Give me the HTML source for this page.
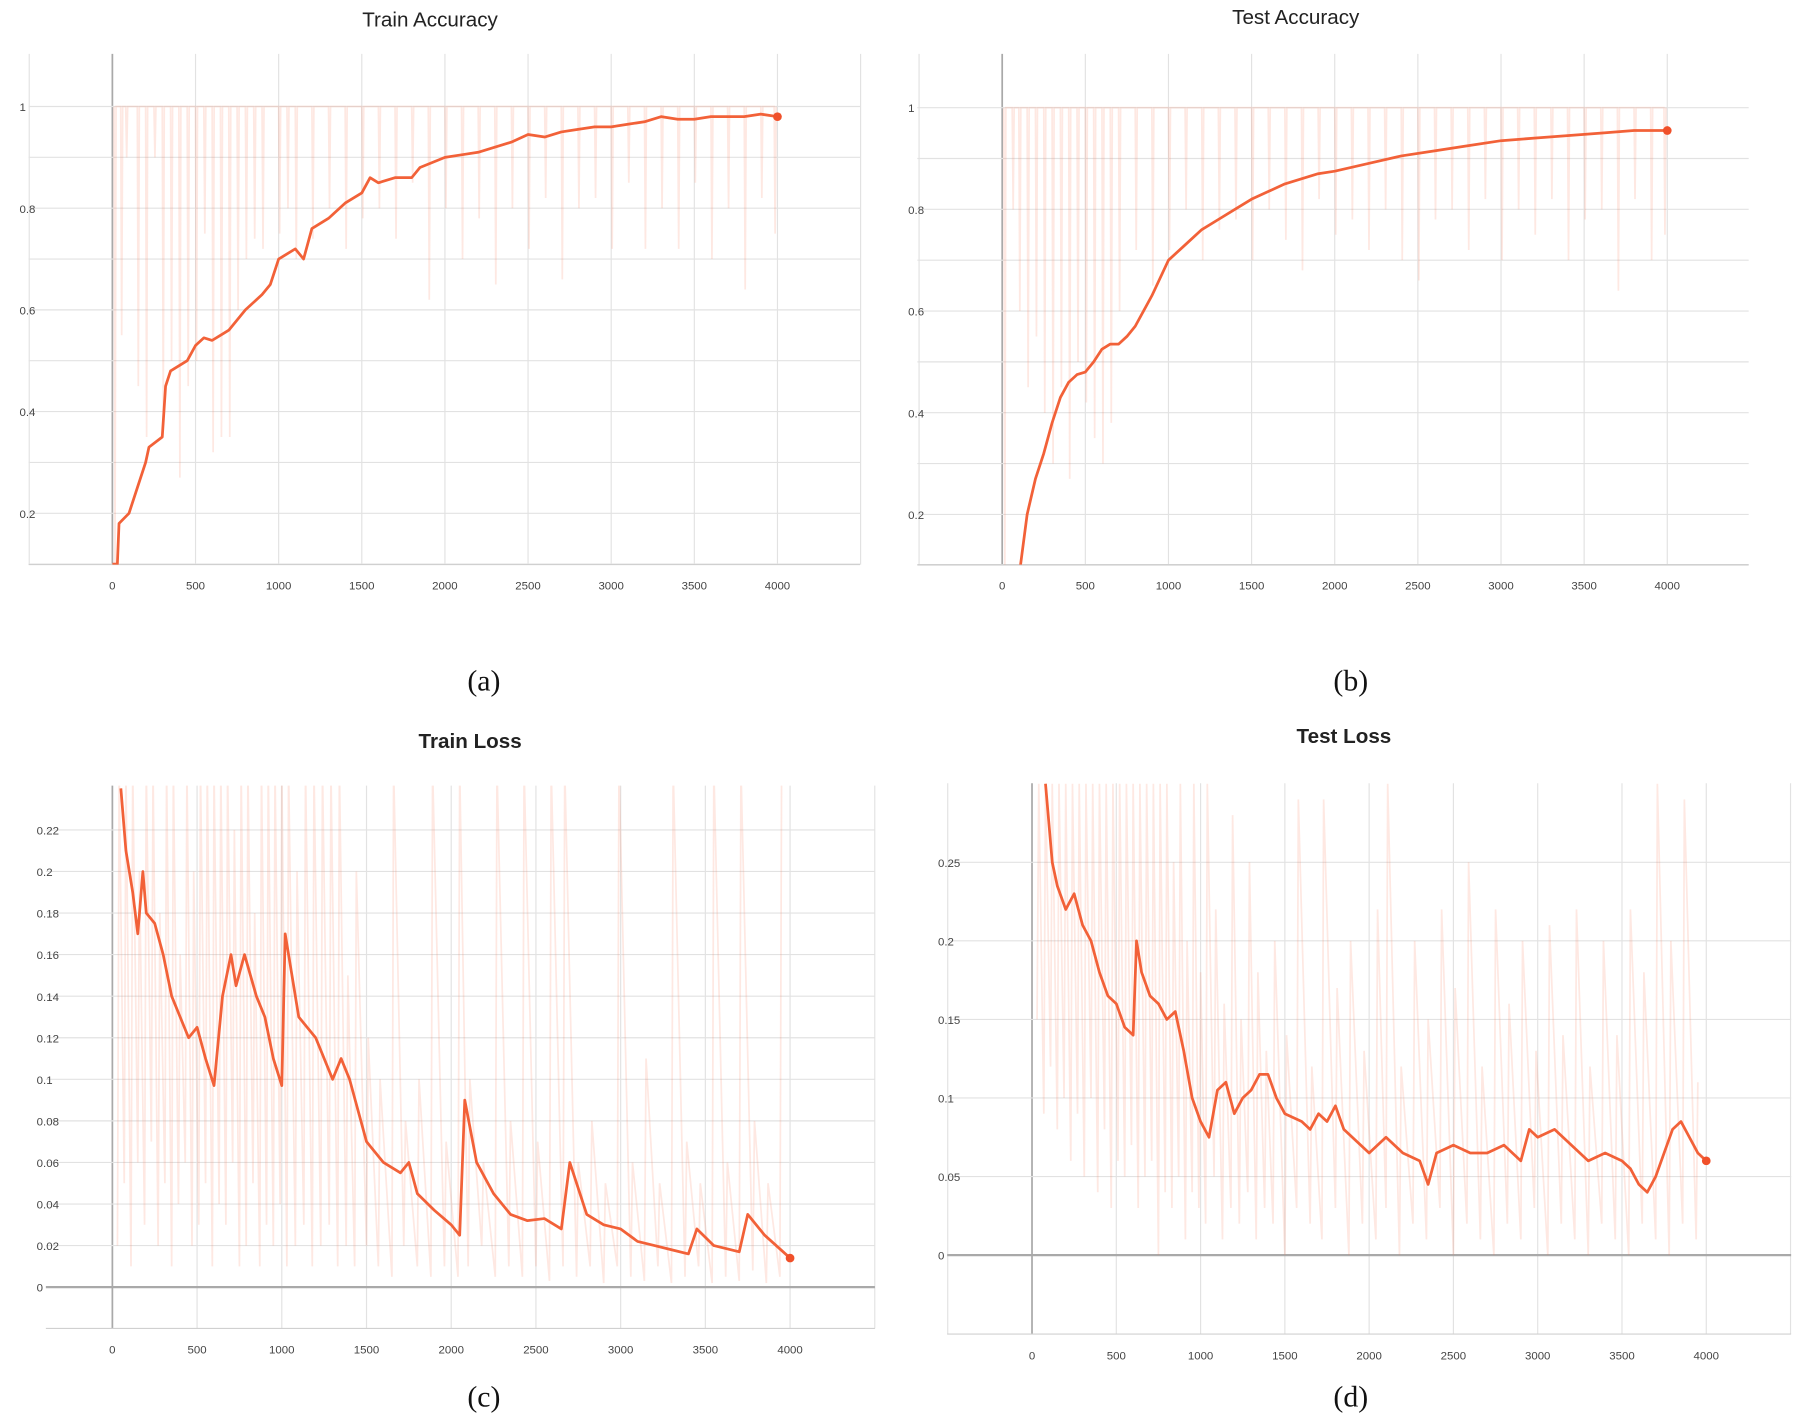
<!DOCTYPE html>
<html><head><meta charset="utf-8">
<style>
html,body{margin:0;padding:0;background:#fff;}
svg{display:block;}
.tick{font-family:"Liberation Sans",sans-serif;font-size:10px;fill:#444;}
.title{font-family:"Liberation Sans",sans-serif;font-size:18px;fill:#222;}
.cap{font-family:"Liberation Serif",serif;font-size:26px;fill:#111;}
</style></head>
<body>
<svg id="fig" width="1798" height="1420" viewBox="0 0 1568 1240" preserveAspectRatio="none" xmlns="http://www.w3.org/2000/svg"></svg>
<script>
// ---- shared tick labels ----
const xTickVals=[0,500,1000,1500,2000,2500,3000,3500,4000];
const accTickVals=[0.2,0.4,0.6,0.8,1];
const accTickLabels=["0.2","0.4","0.6","0.8","1"];
const trainLossTickVals=[0,0.02,0.04,0.06,0.08,0.1,0.12,0.14,0.16,0.18,0.2,0.22];
const trainLossTickLabels=["0","0.02","0.04","0.06","0.08","0.1","0.12","0.14","0.16","0.18","0.2","0.22"];
const testLossTickVals=[0,0.05,0.1,0.15,0.2,0.25];
const testLossTickLabels=["0","0.05","0.1","0.15","0.2","0.25"];

// ---- (a) train accuracy ----
const trainAccX=[0,30,40,100,150,200,220,300,320,350,400,450,500,550,600,650,700,800,900,950,1000,1100,1150,1200,1300,1400,1500,1550,1600,1700,1800,1850,2000,2100,2200,2300,2400,2500,2600,2700,2800,2900,3000,3100,3200,3300,3400,3500,3600,3700,3800,3900,4000];
const trainAccY=[0.1,0.1,0.18,0.2,0.25,0.3,0.33,0.35,0.45,0.48,0.49,0.5,0.53,0.545,0.54,0.55,0.56,0.6,0.63,0.65,0.7,0.72,0.7,0.76,0.78,0.81,0.83,0.86,0.85,0.86,0.86,0.88,0.9,0.905,0.91,0.92,0.93,0.945,0.94,0.95,0.955,0.96,0.96,0.965,0.97,0.98,0.975,0.975,0.98,0.98,0.98,0.985,0.98];
const trainAccRawX=[10,50,80,150,200,250,300,350,400,450,500,550,600,650,700,750,800,850,900,1000,1050,1100,1200,1300,1400,1500,1600,1700,1800,1900,2000,2100,2200,2300,2400,2500,2600,2700,2800,2900,3000,3100,3200,3300,3400,3500,3600,3700,3800,3900,3980];
const trainAccRawY=[0.1,0.55,0.9,0.45,0.35,0.9,0.4,0.5,0.27,0.45,0.5,0.75,0.32,0.35,0.35,0.6,0.7,0.74,0.72,0.75,0.8,0.7,0.74,0.8,0.72,0.78,0.8,0.74,0.85,0.62,0.8,0.7,0.78,0.65,0.8,0.72,0.82,0.66,0.8,0.82,0.72,0.85,0.72,0.8,0.72,0.85,0.7,0.8,0.64,0.82,0.75];

// ---- (b) test accuracy ----
const testAccX=[110,150,200,250,300,350,400,450,500,550,600,650,700,750,800,900,1000,1100,1200,1300,1400,1500,1600,1700,1800,1900,2000,2200,2400,2600,2800,3000,3200,3400,3600,3800,4000];
const testAccY=[0.1,0.2,0.27,0.32,0.38,0.43,0.46,0.475,0.48,0.5,0.525,0.535,0.535,0.55,0.57,0.63,0.7,0.73,0.76,0.78,0.8,0.82,0.835,0.85,0.86,0.87,0.875,0.89,0.905,0.915,0.925,0.935,0.94,0.945,0.95,0.955,0.955];
const testAccRawX=[10,60,100,150,200,250,300,350,400,450,500,550,600,650,700,800,900,1000,1100,1200,1300,1400,1500,1600,1700,1800,1900,2000,2100,2200,2300,2400,2500,2600,2700,2800,2900,3000,3100,3200,3300,3400,3500,3600,3700,3800,3900,3980];
const testAccRawY=[0.1,0.8,0.6,0.45,0.55,0.4,0.3,0.45,0.27,0.5,0.42,0.35,0.3,0.38,0.6,0.72,0.65,0.72,0.8,0.7,0.76,0.78,0.7,0.8,0.74,0.68,0.82,0.75,0.78,0.72,0.8,0.7,0.66,0.78,0.8,0.72,0.82,0.7,0.8,0.75,0.82,0.7,0.78,0.8,0.64,0.82,0.7,0.75];

// ---- (c) train loss ----
const trainLossX=[50,80,120,150,180,200,250,300,350,400,450,500,550,600,650,700,730,780,850,900,950,1000,1020,1100,1150,1200,1300,1350,1400,1450,1500,1600,1700,1750,1800,1900,2000,2050,2080,2150,2250,2350,2450,2550,2650,2700,2800,2900,3000,3100,3200,3300,3400,3450,3550,3700,3750,3850,4000];
const trainLossY=[0.24,0.21,0.19,0.17,0.2,0.18,0.175,0.16,0.14,0.13,0.12,0.125,0.11,0.097,0.14,0.16,0.145,0.16,0.14,0.13,0.11,0.097,0.17,0.13,0.125,0.12,0.1,0.11,0.1,0.085,0.07,0.06,0.055,0.06,0.045,0.037,0.03,0.025,0.09,0.06,0.045,0.035,0.032,0.033,0.028,0.06,0.035,0.03,0.028,0.022,0.02,0.018,0.016,0.028,0.02,0.017,0.035,0.025,0.014];
const trainLossRawX=[30,70,110,150,190,230,270,310,350,390,430,470,510,550,590,630,670,710,750,790,830,870,910,950,990,1030,1080,1130,1180,1230,1280,1330,1380,1430,1500,1570,1650,1720,1800,1880,1960,2040,2100,2180,2260,2340,2420,2500,2580,2660,2740,2820,2900,2980,3060,3140,3220,3300,3380,3460,3540,3620,3700,3780,3860,3940];
const trainLossRawHigh=[0.25,0.25,0.25,0.2,0.25,0.25,0.18,0.25,0.25,0.16,0.25,0.2,0.25,0.25,0.25,0.25,0.25,0.22,0.25,0.25,0.18,0.25,0.25,0.25,0.25,0.25,0.2,0.25,0.25,0.25,0.25,0.25,0.15,0.2,0.12,0.1,0.25,0.08,0.1,0.25,0.07,0.25,0.1,0.06,0.25,0.08,0.25,0.07,0.25,0.25,0.06,0.08,0.05,0.25,0.06,0.11,0.05,0.25,0.07,0.05,0.25,0.06,0.25,0.08,0.05,0.25];
const trainLossRawLow=[0.02,0.05,0.01,0.06,0.03,0.07,0.02,0.05,0.01,0.04,0.06,0.02,0.03,0.05,0.01,0.04,0.03,0.06,0.01,0.02,0.05,0.01,0.03,0.02,0.04,0.01,0.02,0.03,0.01,0.02,0.03,0.01,0.02,0.01,0.02,0.01,0.005,0.02,0.01,0.005,0.01,0.005,0.01,0.02,0.005,0.01,0.005,0.01,0.003,0.01,0.005,0.01,0.002,0.01,0.005,0.003,0.01,0.002,0.005,0.01,0.002,0.005,0.003,0.008,0.002,0.005];

// ---- (d) test loss ----
const testLossX=[80,120,150,200,250,300,350,400,450,500,550,600,620,650,700,750,800,850,900,950,1000,1050,1100,1150,1200,1250,1300,1350,1400,1450,1500,1600,1650,1700,1750,1800,1850,1900,2000,2050,2100,2200,2300,2350,2400,2500,2600,2700,2800,2900,2950,3000,3100,3200,3300,3400,3500,3550,3600,3650,3700,3750,3800,3850,3900,3950,4000];
const testLossY=[0.3,0.25,0.235,0.22,0.23,0.21,0.2,0.18,0.165,0.16,0.145,0.14,0.2,0.18,0.165,0.16,0.15,0.155,0.13,0.1,0.085,0.075,0.105,0.11,0.09,0.1,0.105,0.115,0.115,0.1,0.09,0.085,0.08,0.09,0.085,0.095,0.08,0.075,0.065,0.07,0.075,0.065,0.06,0.045,0.065,0.07,0.065,0.065,0.07,0.06,0.08,0.075,0.08,0.07,0.06,0.065,0.06,0.055,0.045,0.04,0.05,0.065,0.08,0.085,0.075,0.065,0.06];
const testLossRawX=[30,70,110,150,190,230,270,310,350,390,430,470,510,550,590,630,670,710,750,790,830,870,910,950,990,1030,1080,1130,1180,1230,1280,1330,1380,1430,1500,1570,1650,1720,1800,1880,1960,2040,2100,2180,2260,2340,2420,2500,2580,2660,2740,2820,2900,2980,3060,3140,3220,3300,3380,3460,3540,3620,3700,3780,3860,3940];
const testLossRawHigh=[0.3,0.3,0.3,0.3,0.3,0.3,0.3,0.3,0.3,0.3,0.3,0.3,0.3,0.3,0.3,0.3,0.3,0.3,0.3,0.3,0.25,0.3,0.2,0.3,0.18,0.3,0.22,0.16,0.28,0.15,0.25,0.18,0.13,0.2,0.14,0.29,0.12,0.29,0.17,0.2,0.13,0.22,0.3,0.12,0.2,0.15,0.22,0.17,0.25,0.12,0.22,0.16,0.2,0.13,0.21,0.14,0.22,0.12,0.2,0.14,0.22,0.18,0.3,0.2,0.29,0.11];
const testLossRawLow=[0.15,0.09,0.12,0.08,0.1,0.06,0.09,0.05,0.1,0.04,0.08,0.03,0.06,0.05,0.07,0.03,0.05,0.06,0.0,0.04,0.03,0.05,0.01,0.04,0.03,0.02,0.05,0.01,0.03,0.02,0.04,0.01,0.03,0.02,0.0,0.03,0.02,0.01,0.03,0.0,0.02,0.01,0.03,0.0,0.02,0.01,0.03,0.0,0.02,0.01,0.0,0.02,0.01,0.03,0.0,0.02,0.01,0.0,0.02,0.01,0.0,0.02,0.01,0.0,0.02,0.01];

const NS="http://www.w3.org/2000/svg";
const fig=document.getElementById('fig');
function mk(tag,attrs,parent){const e=document.createElementNS(NS,tag);for(const k in attrs)e.setAttribute(k,attrs[k]);(parent||fig).appendChild(e);return e;}

function drawPanel(p){
  const g=mk('g',{});
  
  
  const sx=v=>p.x0+(v/1000)*p.kx;
  const sy=v=>p.yRef-(v-p.vRef)*p.ky;
  const clipId='clip-'+p.name;
  const cp=mk('clipPath',{id:clipId},g);
  mk('rect',{x:p.left,y:p.top,width:p.right-p.left,height:p.bottom-p.top},cp);
  const grid=mk('g',{},g);
  
  
  for(let v=-500;v<=4500;v+=500){const X=sx(v);if(X<p.left-1||X>p.right+1)continue;
    mk('line',{x1:X,y1:p.top,x2:X,y2:p.bottom,stroke:v===0?'#a9a9a9':'#e2e2e2','stroke-width':v===0?1.5:1},grid);}
  for(const v of p.gridY){const Y=sy(v);mk('line',{x1:p.left,y1:Y,x2:p.right,y2:Y,stroke:(p.zeroLine&&v===0)?'#a9a9a9':'#e2e2e2','stroke-width':(p.zeroLine&&v===0)?2:1},grid);}
  mk('line',{x1:p.left,y1:p.bottom,x2:p.right,y2:p.bottom,stroke:'#d0d0d0','stroke-width':1},grid);
  xTickVals.forEach(v=>{const t=mk('text',{x:sx(v),y:p.bottom+22,'text-anchor':'middle',class:'tick'},g);t.textContent=String(v);
    
    });
  p.ticks.forEach((v,i)=>{const t=mk('text',{x:p.left-8,y:sy(v)+4,'text-anchor':'start',class:'tick'},g);t.textContent=p.tickLabels[i];
    
    });
  const pts=[];
  if(p.rawTop!==undefined){
    const n=Math.min(p.rawX.length,p.rawY.length);
    for(let i=0;i<n;i++){pts.push(sx(p.rawX[i])+','+sy(p.rawTop));pts.push(sx(p.rawX[i]+6)+','+sy(p.rawY[i]));pts.push(sx(p.rawX[i]+12)+','+sy(p.rawTop));}
  } else {
    const n=Math.min(p.rawX.length,p.rawLow.length,p.rawHigh.length);
    for(let i=0;i<n;i++){pts.push(sx(p.rawX[i])+','+sy(p.rawLow[i]));pts.push(sx(p.rawX[i]+10)+','+sy(p.rawHigh[i]));}
  }
  const raw=mk('polyline',{points:pts.join(' '),fill:'none',stroke:'rgba(250,120,85,0.17)','stroke-width':1.5,'clip-path':'url(#'+clipId+')'},g);
  
  
  const n=Math.min(p.sX.length,p.sY.length);const sp=[];
  for(let i=0;i<n;i++)sp.push(sx(p.sX[i])+','+sy(p.sY[i]));
  const ln=mk('polyline',{points:sp.join(' '),fill:'none',stroke:'#f26138','stroke-width':2.4,'stroke-linejoin':'round','clip-path':'url(#'+clipId+')'},g);
  
  
  const dot=mk('circle',{cx:sx(p.sX[n-1]),cy:sy(p.sY[n-1]),r:3.8,fill:'#f0502a'},g);
  
  
  const t=mk('text',{x:p.titleX,y:p.titleY,'text-anchor':'middle',class:'title','font-weight':p.bold?'bold':'normal'},g);
  t.textContent=p.title;
  
  
  const c=mk('text',{x:p.capX,y:p.capY,'text-anchor':'middle',class:'cap'},g);
  c.textContent=p.cap;
  
  
}
const accGrid=[0.1,0.2,0.3,0.4,0.5,0.6,0.7,0.8,0.9,1.0];
drawPanel({name:'train-accuracy-chart',left:25,right:750,top:47,bottom:493,x0:98,kx:145,yRef:93,vRef:1,ky:444,gridY:accGrid,ticks:accTickVals,tickLabels:accTickLabels,
  sX:trainAccX,sY:trainAccY,rawX:trainAccRawX,rawY:trainAccRawY,rawTop:1,title:'Train Accuracy',titleX:375,titleY:23,cap:'(a)',capX:422,capY:603});
drawPanel({name:'test-accuracy-chart',left:800,right:1525,top:47,bottom:493,x0:874,kx:145,yRef:94,vRef:1,ky:444,gridY:accGrid,ticks:accTickVals,tickLabels:accTickLabels,
  sX:testAccX,sY:testAccY,rawX:testAccRawX,rawY:testAccRawY,rawTop:1,title:'Test Accuracy',titleX:1130,titleY:21,cap:'(b)',capX:1178,capY:603});
drawPanel({name:'train-loss-chart',left:40,right:763,top:686,bottom:1160,x0:98,kx:147.75,yRef:1124,vRef:0,ky:1815,gridY:trainLossTickVals,zeroLine:true,ticks:trainLossTickVals,tickLabels:trainLossTickLabels,
  sX:trainLossX,sY:trainLossY,rawX:trainLossRawX,rawLow:trainLossRawLow,rawHigh:trainLossRawHigh,title:'Train Loss',titleX:410,titleY:653,bold:true,cap:'(c)',capX:422,capY:1228});
drawPanel({name:'test-loss-chart',left:826,right:1562,top:684,bottom:1165,x0:900,kx:147,yRef:1096,vRef:0,ky:1372,gridY:testLossTickVals,zeroLine:true,ticks:testLossTickVals,tickLabels:testLossTickLabels,
  sX:testLossX,sY:testLossY,rawX:testLossRawX,rawLow:testLossRawLow,rawHigh:testLossRawHigh,title:'Test Loss',titleX:1172,titleY:649,bold:true,cap:'(d)',capX:1178,capY:1228});
</script>
</body></html>
